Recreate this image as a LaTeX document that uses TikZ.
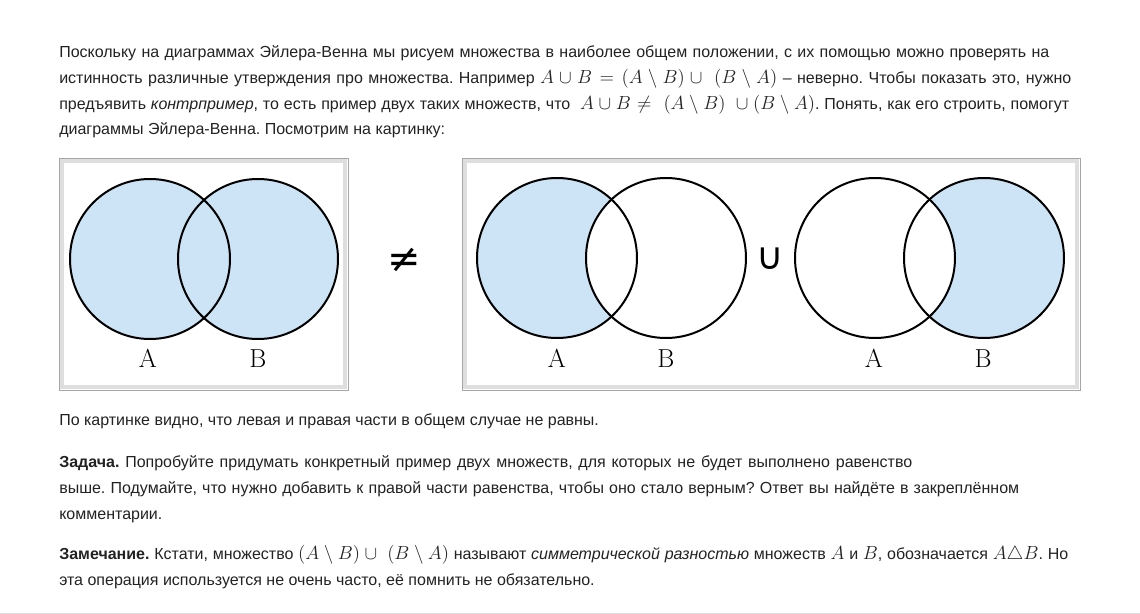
\documentclass[tikz,border=0pt]{standalone}
\usepackage{fix-cm}
\usepackage{amsmath}
\usepackage{amssymb}
\usepackage[no-math]{fontspec}
\setmainfont{Liberation Sans}
\newfontfamily\symfont{DejaVu Sans}
\frenchspacing
\definecolor{setblue}{HTML}{CCE4F5}
\definecolor{textcol}{HTML}{222222}
\definecolor{frameout}{HTML}{A6A6A6}
\definecolor{frameband}{HTML}{DEDEDE}
\newcommand{\mth}[1]{{\fontsize{14.2}{15}\selectfont$#1$}}
\newcommand{\setlbl}[1]{{\fontsize{19.5}{20}\selectfont$\mathrm{#1}$}}

\begin{document}
\begin{tikzpicture}[x=0.75pt,y=-0.75pt,
	txt/.style={anchor=base west,inner sep=0pt,text=textcol,font=\fontsize{12}{14}\selectfont},
	venn/.style={line width=1.5pt,draw=black},
	lbl/.style={inner sep=0pt,anchor=base},
	frame/.style={draw=frameout,line width=0.75pt}]
	\useasboundingbox (0,0) rectangle (1140,614);

	% text above the pictures
	\node[txt] (l1) at (59,57) {\makebox[742.5pt][s]{Поскольку на диаграммах Эйлера-Венна мы рисуем множества в наиболее общем положении, с их помощью можно проверять на}};
	\node[txt] (l2) at (59,83) {\makebox[759pt][s]{истинность различные утверждения про множества. Например \mth{A\cup B=(A\setminus B)\cup\ (B\setminus A)} – неверно. Чтобы показать это, нужно}};
	\node[txt] (l3) at (59,109) {\makebox[757.5pt][s]{предъявить \textit{контрпример}, то есть пример двух таких множеств, что\ \ \mth{A\cup B\neq\ (A\setminus B)\ \cup(B\setminus A)}. Понять, как его строить, помогут}};
	\node[txt] (l4) at (59,134) {диаграммы Эйлера-Венна. Посмотрим на картинку:};

	% left frame
	\draw[frame] (59,158) rectangle (348,390);
	\draw[draw=frameband,line width=3.5pt] (62,161) rectangle (345,387);
	\fill[setblue] (150,259) circle[radius=80];
	\fill[setblue] (258,259) circle[radius=80];
	\draw[venn] (150,259) circle[radius=80];
	\draw[venn] (258,259) circle[radius=80];
	\node[lbl] (a1) at (148,367) {\setlbl{A}};
	\node[lbl] (b1) at (258,367) {\setlbl{B}};

	\node (neq) at (404,260) {\symfont\fontsize{30}{32}\selectfont ≠};

	% right frame
	\draw[frame] (462,158) rectangle (1080,390);
	\draw[draw=frameband,line width=3.5pt] (465,161) rectangle (1077,387);
	\fill[setblue] (557,258) circle[radius=80];
	\fill[white] (666,258) circle[radius=80];
	\draw[venn] (557,258) circle[radius=80];
	\draw[venn] (666,258) circle[radius=80];
	\node[lbl] (a2) at (557,367) {\setlbl{A}};
	\node[lbl] (b2) at (666,367) {\setlbl{B}};

	\node (cup) at (770,259) {\symfont\fontsize{28}{30}\selectfont ∪};

	\fill[setblue] (984,258) circle[radius=80];
	\fill[white] (875,258) circle[radius=80];
	\draw[venn] (875,258) circle[radius=80];
	\draw[venn] (984,258) circle[radius=80];
	\node[lbl] (a3) at (874,367) {\setlbl{A}};
	\node[lbl] (b3) at (983,367) {\setlbl{B}};

	% text below the pictures
	\node[txt] (l5) at (59,425) {По картинке видно, что левая и правая части в общем случае не равны.};
	\node[txt] (l6) at (59,467) {\makebox[639.75pt][s]{\textbf{Задача.} Попробуйте придумать конкретный пример двух множеств, для которых не будет выполнено равенство}};
	\node[txt] (l7) at (59,493) {\makebox[720pt][s]{выше. Подумайте, что нужно добавить к правой части равенства, чтобы оно стало верным? Ответ вы найдёте в закреплённом}};
	\node[txt] (l8) at (59,519) {комментарии.};
	\node[txt] (l9) at (59,559) {\makebox[756.75pt][s]{\textbf{Замечание.} Кстати, множество \mth{(A\setminus B)\cup\ (B\setminus A)} называют \textit{симметрической разностью} множеств \mth{A} и \mth{B}, обозначается \mth{A\triangle B}. Но}};
	\node[txt] (l10) at (59,585) {эта операция используется не очень часто, её помнить не обязательно.};

	\draw[frameband,line width=0.75pt] (0,613) -- (1140,613);
\end{tikzpicture}
\end{document}
